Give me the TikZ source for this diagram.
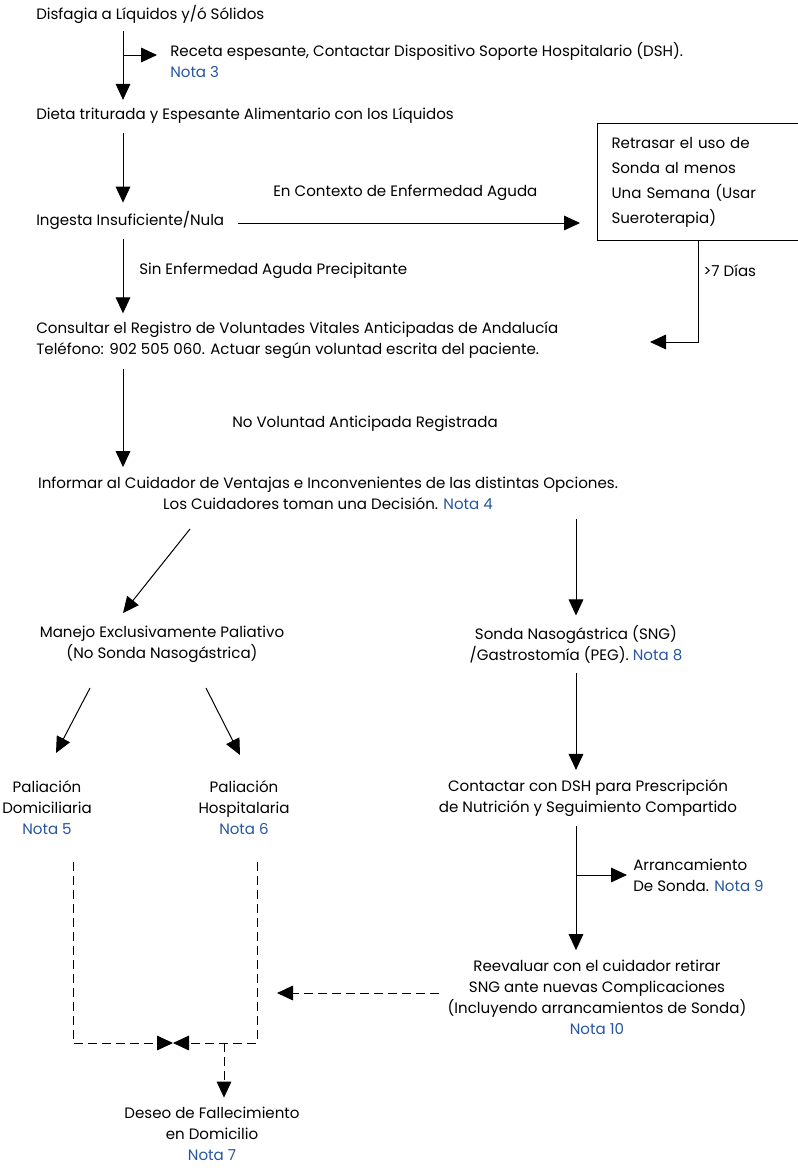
\documentclass[tikz,border=0pt]{standalone}
\usepackage{fontspec}
\setmainfont{Poppins}
\usepackage{xcolor}
\usetikzlibrary{arrows.meta}

\definecolor{notablue}{RGB}{38,86,160}
\newcommand{\nota}[1]{\textcolor{notablue}{Nota #1}}

\tikzset{
    txt/.style={inner sep=0pt, font=\fontsize{11.3}{15.75}\selectfont},
    arr/.style={-{Triangle[length=12pt,width=11pt]}, line width=0.75pt},
    dasharr/.style={arr, dash pattern=on 7pt off 3.5pt},
    caja/.style={txt, draw, line width=0.75pt, align=left, text width=170pt,
        inner xsep=10.5pt, minimum height=88pt, font=\fontsize{11.3}{18.75}\selectfont}
}

\begin{document}
\begin{tikzpicture}[x=0.75pt,y=-0.75pt]
    \useasboundingbox (0,0) rectangle (797,1172);

    % Columns of the vertical arrows
    \coordinate (colA) at (123,0);
    \coordinate (colB) at (576,0);

    % Left column of steps
    \node[txt, anchor=west] (disf) at (36,14) {Disfagia a Líquidos y/ó Sólidos};
    \node[txt, anchor=west, align=left] (receta) at (170,60)
        {Receta espesante, Contactar Dispositivo Soporte Hospitalario (DSH).\\\nota{3}};
    \node[txt, anchor=west] (dieta) at (36,116) {Dieta triturada y Espesante Alimentario con los Líquidos};
    \node[txt, anchor=west] (ingesta) at (36,220) {Ingesta Insuficiente/Nula};
    \node[txt, anchor=west] (contexto) at (273,193) {En Contexto de Enfermedad Aguda};
    \node[caja, anchor=west] (retrasar) at (597,182)
        {Retrasar el uso de\\Sonda al menos\\Una Semana (Usar\\Sueroterapia)};
    \node[txt, anchor=west] (dias) at (703,271) {>7 Días};
    \node[txt, anchor=west] (sinenf) at (139,271) {Sin Enfermedad Aguda Precipitante};
    \node[txt, anchor=west, align=left] (consultar) at (36,340)
        {Consultar el Registro de Voluntades Vitales Anticipadas de Andalucía\\
         Teléfono: 902 505 060. Actuar según voluntad escrita del paciente.};
    \node[txt] (novol) at (365,424) {No Voluntad Anticipada Registrada};
    \node[txt, align=center] (informar) at (328,493)
        {Informar al Cuidador de Ventajas e Inconvenientes de las distintas Opciones.\\
         Los Cuidadores toman una Decisión. \nota{4}};

    % Two branches
    \node[txt, align=center] (manejo) at (162,644)
        {Manejo Exclusivamente Paliativo\\(No Sonda Nasogástrica)};
    \node[txt, align=center] (sonda) at (576,644)
        {Sonda Nasogástrica (SNG)\\/Gastrostomía (PEG). \nota{8}};
    \node[txt, align=center] (domic) at (47,808) {Paliación\\Domiciliaria\\\nota{5}};
    \node[txt, align=center] (hosp) at (244,808) {Paliación\\Hospitalaria\\\nota{6}};
    \node[txt, align=center] (contactar) at (588,798)
        {Contactar con DSH para Prescripción\\de Nutrición y Seguimiento Compartido};
    \node[txt, anchor=west, align=left] (arranc) at (633,875) {Arrancamiento\\De Sonda. \nota{9}};
    \node[txt, align=center] (reeval) at (597,997)
        {Reevaluar con el cuidador retirar\\SNG ante nuevas Complicaciones\\
         (Incluyendo arrancamientos de Sonda)\\\nota{10}};
    \node[txt, align=center] (deseo) at (212,1134) {Deseo de Fallecimiento\\en Domicilio\\\nota{7}};

    % Free ends of the connectors
    \coordinate (rcta) at ([yshift=3.75pt]receta.west);
    \coordinate (vuelta) at (650,342);
    \coordinate (diagA) at (190,529);
    \coordinate (diagB) at (123,613);
    \coordinate (palA) at (90,688);
    \coordinate (palB) at (56,753);
    \coordinate (palC) at (206,688);
    \coordinate (palD) at (240,755);
    \coordinate (vuelve) at (277,993);
    \coordinate (dL) at (73,862);
    \coordinate (dR) at (257,862);
    \coordinate (junta) at (173,1043);
    \coordinate (bajada) at (224,1043);

    % Main column
    \draw[arr, shorten <=6pt, shorten >=6pt] (disf.south -| colA) -- (dieta.north -| colA);
    \draw[arr, shorten >=9.75pt] (colA |- rcta) -- (rcta);
    \draw[arr, shorten <=7pt, shorten >=6pt] (dieta.south -| colA) -- (ingesta.north -| colA);
    \draw[arr, shorten <=7pt, shorten >=6pt] (ingesta.south -| colA) -- (consultar.north -| colA);
    \draw[arr, shorten <=8pt, shorten >=7pt] (consultar.south -| colA) -- (informar.north -| colA);

    % Acute illness branch
    \draw[arr, shorten <=10pt, shorten >=12.75pt] (ingesta.east |- 0,223) -- (retrasar.west |- 0,223);
    \draw[arr] ([xshift=75.75pt]retrasar.south west) |- (vuelta);

    % Decision
    \draw[arr] (diagA) -- (diagB);
    \draw[arr, shorten <=7pt, shorten >=7pt] (informar.south -| colB) -- (sonda.north -| colB);
    \draw[arr] (palA) -- (palB);
    \draw[arr] (palC) -- (palD);
    \draw[arr, shorten <=7pt, shorten >=7pt] (sonda.south -| colB) -- (contactar.north -| colB);
    \draw[arr, shorten <=7pt, shorten >=7pt] (contactar.south -| colB) -- (reeval.north -| colB);
    \draw[arr, shorten >=4.5pt] (colB |- arranc.west) -- (arranc.west);

    % Dashed returns
    \draw[dasharr, shorten <=6pt] (reeval.west |- vuelve) -- (vuelve);
    \draw[dasharr] (dL) |- (junta);
    \draw[dasharr] (dR) |- (junta);
    \draw[dasharr, shorten >=7pt] (bajada) -- (deseo.north -| bajada);
\end{tikzpicture}
\end{document}
